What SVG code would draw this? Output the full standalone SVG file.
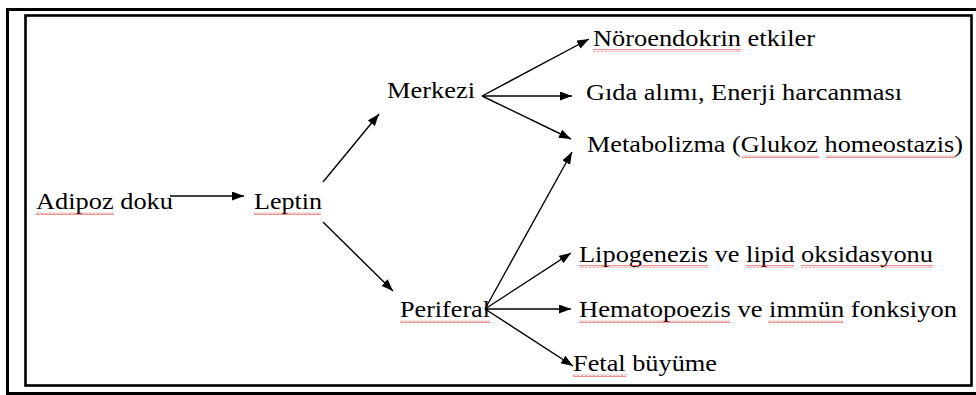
<svg xmlns="http://www.w3.org/2000/svg" width="976" height="395" viewBox="0 0 976 395">
<style>
text{font-family:"Liberation Serif","Times New Roman",serif;font-size:22.5px;fill:#000;}
.frame{fill:none;stroke:#000;}
.conn line{stroke:#000;stroke-width:1.4;marker-end:url(#ah);}
.sq{fill:url(#wave);}
</style>
<defs>
<marker id="ah" markerUnits="userSpaceOnUse" markerWidth="13" markerHeight="10" refX="12" refY="4.5" orient="auto">
<path d="M0,0 L12,4.5 L0,9 Z" fill="#000"/>
</marker>
<pattern id="wave" patternUnits="userSpaceOnUse" width="4" height="3">
<path d="M0,2.5 L2,0.5 L4,2.5" fill="none" stroke="#f02020" stroke-width="1"/>
</pattern>
</defs>
<rect class="frame" x="7.5" y="9.5" width="972" height="384" stroke-width="3"/>
<rect class="frame" x="25.5" y="15.5" width="946" height="370" stroke-width="2.6"/>
<g class="conn" id="connectors">
<line x1="170" y1="196" x2="244" y2="196"/>
<line x1="323" y1="182" x2="379" y2="114"/>
<line x1="323" y1="222" x2="393" y2="291"/>
<line x1="482" y1="96" x2="589" y2="39"/>
<line x1="482" y1="96" x2="572" y2="96"/>
<line x1="482" y1="96" x2="571" y2="139"/>
<line x1="485" y1="309" x2="572" y2="152"/>
<line x1="485" y1="309" x2="571" y2="253"/>
<line x1="485" y1="309" x2="571" y2="309"/>
<line x1="485" y1="309" x2="573" y2="366"/>
</g>
<g id="adipoz">
<text x="36" y="209" textLength="137" lengthAdjust="spacingAndGlyphs">Adipoz doku</text>
<rect class="sq" x="36" y="212" width="78" height="3"/>
</g>
<g id="leptin">
<text x="254" y="209" textLength="68" lengthAdjust="spacingAndGlyphs">Leptin</text>
<rect class="sq" x="254" y="212" width="67" height="3"/>
</g>
<g id="merkezi">
<text x="387" y="98" textLength="88" lengthAdjust="spacingAndGlyphs">Merkezi</text>
</g>
<g id="periferal">
<text x="400" y="317" textLength="90" lengthAdjust="spacingAndGlyphs">Periferal</text>
<rect class="sq" x="400" y="320" width="90" height="3"/>
</g>
<g id="noroendokrin">
<text x="593" y="46" textLength="222" lengthAdjust="spacingAndGlyphs">Nöroendokrin etkiler</text>
<rect class="sq" x="593" y="49" width="148" height="3"/>
</g>
<g id="gida">
<text x="586" y="100" textLength="316" lengthAdjust="spacingAndGlyphs">Gıda alımı, Enerji harcanması</text>
</g>
<g id="metabolizma">
<text x="587" y="152" textLength="376" lengthAdjust="spacingAndGlyphs">Metabolizma (Glukoz homeostazis)</text>
<rect class="sq" x="742" y="155" width="77" height="3"/>
<rect class="sq" x="826" y="155" width="130" height="3"/>
</g>
<g id="lipogenezis">
<text x="579" y="262" textLength="354" lengthAdjust="spacingAndGlyphs">Lipogenezis ve lipid oksidasyonu</text>
<rect class="sq" x="579" y="265" width="129" height="3"/>
<rect class="sq" x="746" y="265" width="48" height="3"/>
<rect class="sq" x="801" y="265" width="132" height="3"/>
</g>
<g id="hematopoezis">
<text x="579" y="317" textLength="378" lengthAdjust="spacingAndGlyphs">Hematopoezis ve immün fonksiyon</text>
<rect class="sq" x="579" y="320" width="151" height="3"/>
<rect class="sq" x="768" y="320" width="75" height="3"/>
</g>
<g id="fetal">
<text x="573" y="371" textLength="144" lengthAdjust="spacingAndGlyphs">Fetal büyüme</text>
<rect class="sq" x="573" y="374" width="53" height="3"/>
</g>
</svg>
